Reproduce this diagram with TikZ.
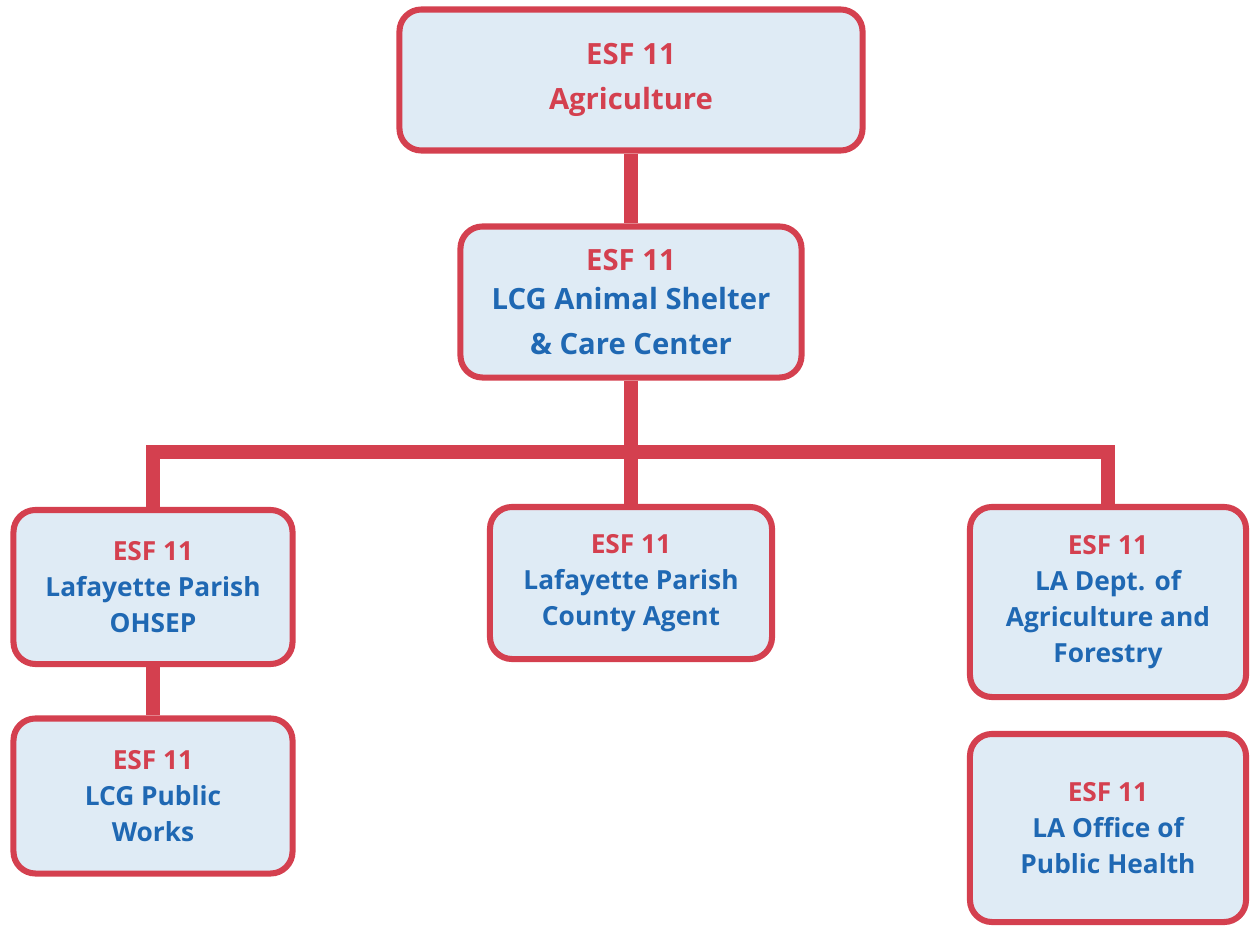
\documentclass[tikz,border=0pt]{standalone}
\usepackage{fontspec}
\setmainfont{Open Sans}
\usepackage{tikz}
\usetikzlibrary{positioning,backgrounds}
\definecolor{esfred}{HTML}{D4404F}
\definecolor{boxbg}{HTML}{DFEBF5}
\definecolor{agblue}{HTML}{1F68B3}
\newcommand{\esf}{\textcolor{esfred}{ESF 11}}

\begin{document}
\begin{tikzpicture}[x=0.025cm,y=-0.025cm,
    orgbox/.style={draw=esfred,fill=boxbg,line width=4.3pt,rounded corners=0.55cm,
      align=center,text=agblue,inner sep=2pt,
      font=\bfseries\fontsize{18.7}{25.6}\selectfont},
    bigbox/.style={orgbox,font=\bfseries\fontsize{20.8}{32}\selectfont},
    link/.style={draw=esfred,line width=10pt}]
  \useasboundingbox (0,0) rectangle (1252,928);
  % top levels
  \node[bigbox,minimum width=11.575cm,minimum height=3.525cm] (agri) at (631,80)
    {\esf\\ \textcolor{esfred}{Agriculture}};
  \node[bigbox,minimum width=8.525cm,minimum height=3.775cm] (shelter) at (631,302)
    {\esf\\[-4pt] LCG Animal Shelter\\ \& Care Center};
  % partner agencies
  \node[orgbox,minimum width=6.975cm,minimum height=3.85cm] (ohsep) at (153,587)
    {\esf\\ Lafayette Parish\\ OHSEP};
  \node[orgbox,minimum width=7.05cm,minimum height=3.8cm] (agent) at (631,583)
    {\esf\\ Lafayette Parish\\ County Agent};
  \node[orgbox,minimum width=6.9cm,minimum height=4.75cm] (ldaf) at (1108,602)
    {\esf\\ LA Dept. of\\ Agriculture and\\ Forestry};
  \node[orgbox,minimum width=6.975cm,minimum height=3.875cm] (works) at (153,796)
    {\esf\\ LCG Public\\ Works};
  \node[orgbox,minimum width=6.9cm,minimum height=4.7cm] (oph) at (1108,828)
    {\esf\\ LA Office of\\ Public Health};
  \coordinate (bar) at (631,452);
  \begin{scope}[on background layer]
    \draw[link] (agri) -- (shelter);
    \draw[link] (shelter) -- (bar);
    \draw[link] (bar) -| (ohsep.north);
    \draw[link] (bar) -| (ldaf.north);
    \draw[link] (bar) -- (agent);
    \draw[link] (ohsep) -- (works);
  \end{scope}
\end{tikzpicture}
\end{document}
